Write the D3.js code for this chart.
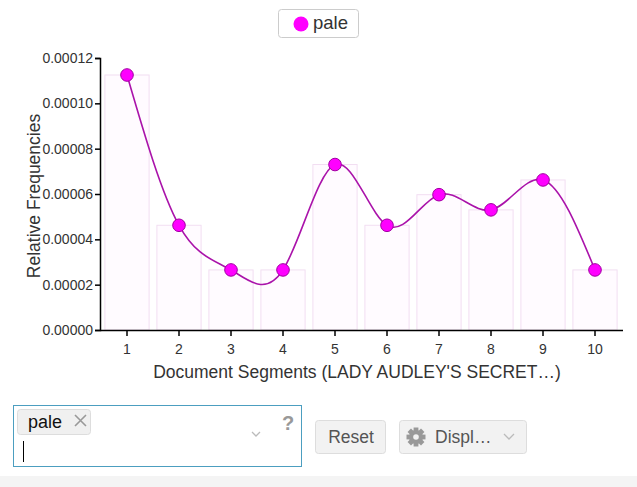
<!DOCTYPE html>
<html>
<head>
<meta charset="utf-8">
<script src="https://cdn.jsdelivr.net/npm/d3@7"></script>
<style>
  body { margin: 0; background: #fff; font-family: "Liberation Sans", Arial, sans-serif; }
  .axis text { font-family: "Liberation Sans", Arial, sans-serif; font-size: 14px; fill: #333; }
  .axis path, .axis line { stroke: #000; stroke-width: 1.5px; }
</style>
</head>
<body>
<script>
// chart size
var w = 637, h = 487;

// data
var segments = ["1", "2", "3", "4", "5", "6", "7", "8", "9", "10"];
var paleValues = [0.0001125, 0.0000462, 0.0000265, 0.0000265, 0.0000730,
                  0.0000462, 0.0000597, 0.0000530, 0.0000662, 0.0000265];
var yTicks = [0, 0.00002, 0.00004, 0.00006, 0.00008, 0.00010, 0.00012];
var seriesName = "pale";
var xTitle = "Document Segments (LADY AUDLEY'S SECRET\u2026)";
var yTitle = "Relative Frequencies";

window.onload = function(){
  var svg = d3.select("body").append("svg")
    .attr("width", w)
    .attr("height", h);

  // grey strip at the bottom of the page
  svg.append("rect")
    .attr("x", 0).attr("y", 476)
    .attr("width", w).attr("height", h - 476)
    .style("fill", "#f4f4f4");

  // scales
  var x = d3.scaleBand()
    .domain(segments)
    .range([101, 621])
    .paddingInner(0.15)
    .paddingOuter(0.075);

  var y = d3.scaleLinear()
    .domain([0, 0.00012])
    .range([330, 58]);

  // bars
  svg.selectAll(".bar")
    .data(paleValues)
    .enter()
    .append("rect")
    .attr("class", "bar")
    .attr("x", function(d, i){ return x(segments[i]); })
    .attr("y", function(d){ return y(d); })
    .attr("width", x.bandwidth())
    .attr("height", function(d){ return y(0) - y(d); })
    .style("fill", "#fffbff")
    .style("stroke", "#f2def2")
    .style("stroke-width", 1);

  // axes
  svg.append("g")
    .attr("class", "axis")
    .attr("transform", "translate(100,0)")
    .call(d3.axisLeft(y).tickValues(yTicks).tickFormat(d3.format(".5f")).tickSize(5).tickPadding(2));

  var xAxis = svg.append("g")
    .attr("class", "axis")
    .attr("transform", "translate(0,330)")
    .call(d3.axisBottom(x).tickSize(6).tickPadding(8).tickSizeOuter(0));
  xAxis.select(".domain").attr("d", "M100,0.5H623");

  // smooth line
  var line = d3.line()
    .x(function(d, i){ return x(segments[i]) + x.bandwidth() / 2; })
    .y(function(d){ return y(d); })
    .curve(d3.curveNatural);

  svg.append("path")
    .datum(paleValues)
    .attr("d", line)
    .style("fill", "none")
    .style("stroke", "#aa13aa")
    .style("stroke-width", 1.6);

  // points
  svg.selectAll(".dot")
    .data(paleValues)
    .enter()
    .append("circle")
    .attr("class", "dot")
    .attr("cx", function(d, i){ return x(segments[i]) + x.bandwidth() / 2; })
    .attr("cy", function(d){ return y(d); })
    .attr("r", 6.3)
    .style("fill", "#ff00ff")
    .style("stroke", "#a000a0")
    .style("stroke-width", 1);

  // axis titles
  svg.append("text")
    .attr("x", 357).attr("y", 378)
    .attr("text-anchor", "middle")
    .style("font-size", "17.5px")
    .style("fill", "#333")
    .text(xTitle);

  svg.append("text")
    .attr("transform", "translate(40,196) rotate(-90)")
    .attr("text-anchor", "middle")
    .style("font-size", "17.5px")
    .style("fill", "#333")
    .text(yTitle);

  // legend
  var legend = svg.append("g").attr("class", "legend");
  legend.append("rect")
    .attr("x", 278.5).attr("y", 9.5)
    .attr("width", 80).attr("height", 28)
    .attr("rx", 3)
    .style("fill", "#fff")
    .style("stroke", "#ccc");
  legend.append("circle")
    .attr("cx", 301).attr("cy", 24)
    .attr("r", 7.5)
    .style("fill", "#ff00ff");
  legend.append("text")
    .attr("x", 313).attr("y", 29)
    .style("font-size", "18.5px")
    .style("fill", "#333")
    .text(seriesName);

  // search box with tag
  var ctrl = svg.append("g").attr("class", "controls");
  ctrl.append("rect")
    .attr("x", 13.5).attr("y", 405.5)
    .attr("width", 288).attr("height", 61)
    .style("fill", "#fff")
    .style("stroke", "#4c9ec0");
  ctrl.append("rect")
    .attr("x", 17.5).attr("y", 409.5)
    .attr("width", 73).attr("height", 25)
    .attr("rx", 3)
    .style("fill", "#f0f0f0")
    .style("stroke", "#ddd");
  ctrl.append("text")
    .attr("x", 28).attr("y", 428)
    .style("font-size", "18px")
    .style("fill", "#111")
    .text(seriesName);
  ctrl.append("path")
    .attr("d", "M75,415L86,426M86,415L75,426")
    .style("stroke", "#999")
    .style("stroke-width", 1.6);
  ctrl.append("line")
    .attr("x1", 23.5).attr("x2", 23.5)
    .attr("y1", 441).attr("y2", 462)
    .style("stroke", "#000");
  ctrl.append("path")
    .attr("d", "M252,432L256,436L260,432")
    .style("fill", "none")
    .style("stroke", "#bbb")
    .style("stroke-width", 1.3);
  ctrl.append("text")
    .attr("x", 288).attr("y", 430)
    .attr("text-anchor", "middle")
    .style("font-size", "20px")
    .style("font-weight", "bold")
    .style("fill", "#999")
    .text("?");

  // buttons
  ctrl.append("rect")
    .attr("x", 315.5).attr("y", 420.5)
    .attr("width", 70).attr("height", 33)
    .attr("rx", 3)
    .style("fill", "#f2f2f2")
    .style("stroke", "#ddd");
  ctrl.append("text")
    .attr("x", 351).attr("y", 443)
    .attr("text-anchor", "middle")
    .style("font-size", "17.5px")
    .style("fill", "#555")
    .text("Reset");

  ctrl.append("rect")
    .attr("x", 399.5).attr("y", 420.5)
    .attr("width", 127).attr("height", 33)
    .attr("rx", 3)
    .style("fill", "#f2f2f2")
    .style("stroke", "#ddd");

  // gear icon
  var gear = ctrl.append("g").attr("transform", "translate(416,437)");
  var teeth = d3.range(8).map(function(i){ return i * 45; });
  gear.selectAll(".tooth")
    .data(teeth)
    .enter()
    .append("rect")
    .attr("x", -2.4).attr("y", -9.5)
    .attr("width", 4.8).attr("height", 6)
    .attr("transform", function(d){ return "rotate(" + d + ")"; })
    .style("fill", "#999");
  gear.append("circle").attr("r", 7).style("fill", "#999");
  gear.append("circle").attr("r", 2.8).style("fill", "#f2f2f2");

  ctrl.append("text")
    .attr("x", 435).attr("y", 443)
    .style("font-size", "17.5px")
    .style("fill", "#555")
    .text("Displ\u2026");
  ctrl.append("path")
    .attr("d", "M504,434L509,439L514,434")
    .style("fill", "none")
    .style("stroke", "#bbb")
    .style("stroke-width", 1.3);
};
</script>
</body>
</html>
